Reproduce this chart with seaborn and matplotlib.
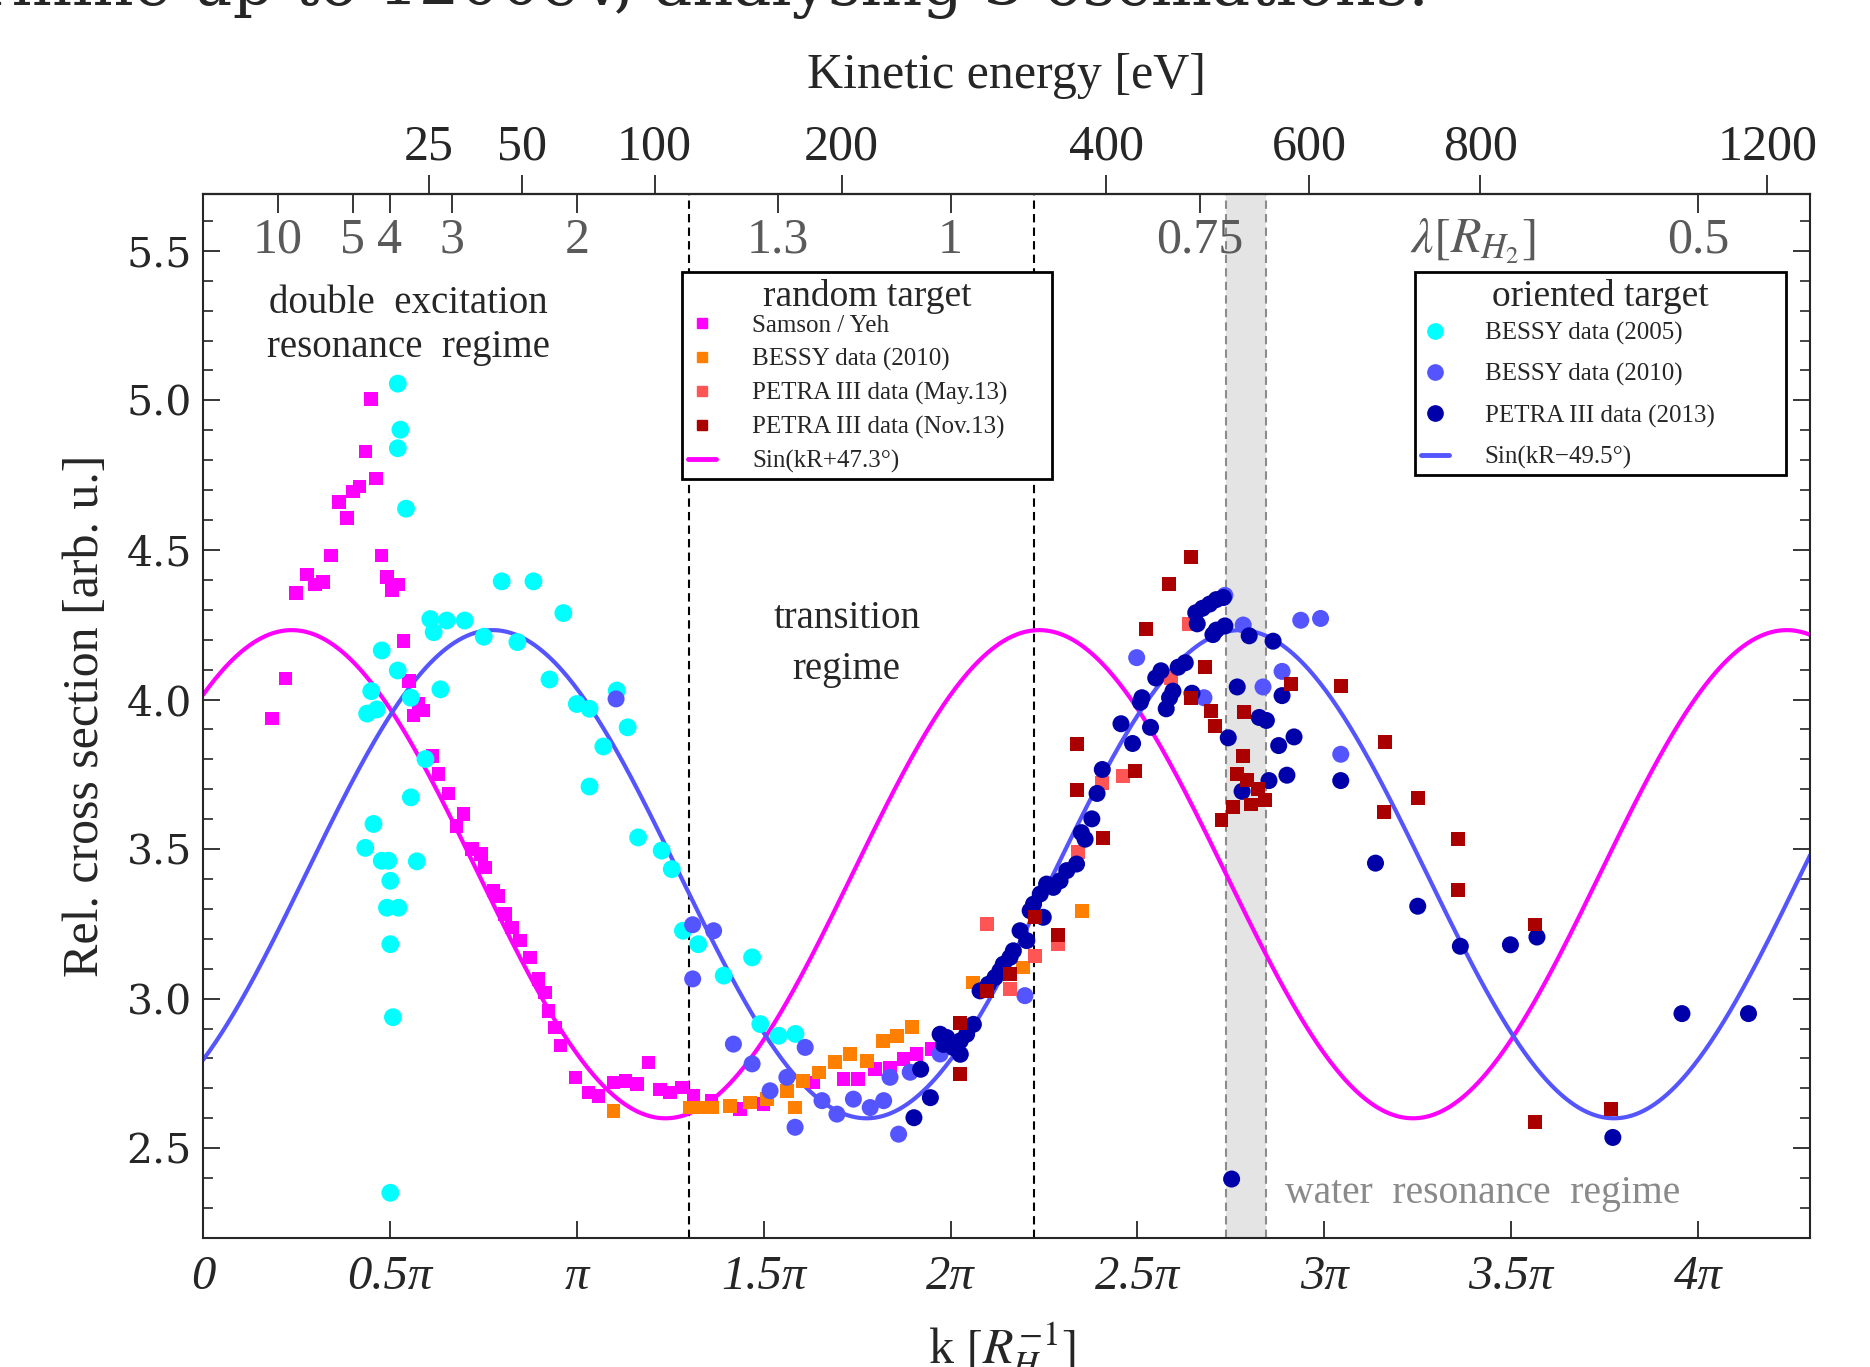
import numpy as np
import pandas as pd
import matplotlib
matplotlib.use("Agg")
import matplotlib.pyplot as plt
import seaborn as sns
from matplotlib.lines import Line2D
from matplotlib.ticker import MultipleLocator

# ---------------------------------------------------------------- data
# photon-electron wave number k in units of pi [R^-1], relative cross section
samson_k = [0.185, 0.221, 0.249, 0.278, 0.300, 0.321, 0.342, 0.364, 0.385, 0.401,
            0.419, 0.435, 0.449, 0.463, 0.477, 0.492, 0.506, 0.522, 0.536, 0.551,
            0.563, 0.577, 0.588, 0.614, 0.630, 0.657, 0.678, 0.697, 0.719, 0.743,
            0.755, 0.777, 0.790, 0.808, 0.826, 0.848, 0.875, 0.898, 0.915, 0.924,
            0.942, 0.956, 0.996, 1.031, 1.058, 1.098, 1.130, 1.161, 1.192, 1.223,
            1.250, 1.281, 1.312, 1.360, 1.437, 1.499, 1.633, 1.713, 1.753, 1.798,
            1.838, 1.874, 1.909, 1.950]
samson_y = [3.937, 4.071, 4.356, 4.418, 4.384, 4.392, 4.481, 4.660, 4.606, 4.695,
            4.712, 4.829, 5.005, 4.739, 4.481, 4.409, 4.364, 4.384, 4.196, 4.061,
            3.946, 3.985, 3.963, 3.812, 3.751, 3.686, 3.578, 3.617, 3.500, 3.484,
            3.439, 3.361, 3.344, 3.283, 3.238, 3.194, 3.138, 3.066, 3.021, 2.959,
            2.904, 2.843, 2.736, 2.686, 2.675, 2.720, 2.725, 2.714, 2.787, 2.697,
            2.686, 2.703, 2.675, 2.660, 2.631, 2.648, 2.720, 2.731, 2.731, 2.764,
            2.770, 2.798, 2.815, 2.831]

bessy10r_k = [1.098, 1.303, 1.330, 1.361, 1.410, 1.464, 1.508, 1.562, 1.584, 1.606,
              1.647, 1.691, 1.731, 1.776, 1.820, 1.856, 1.896, 2.061, 2.195, 2.351]
bessy10r_y = [2.625, 2.636, 2.636, 2.636, 2.642, 2.653, 2.664, 2.692, 2.636, 2.725,
              2.753, 2.787, 2.815, 2.792, 2.859, 2.876, 2.904, 3.054, 3.104, 3.294]

petra_may_k = [2.097, 2.159, 2.226, 2.288, 2.341, 2.406, 2.461, 2.591, 2.637]
petra_may_y = [3.249, 3.032, 3.143, 3.182, 3.489, 3.722, 3.744, 4.072, 4.253]

petra_nov_k = [2.026, 2.026, 2.097, 2.159, 2.226, 2.288, 2.339, 2.339, 2.408, 2.493,
               2.524, 2.584, 2.644, 2.644, 2.680, 2.697, 2.708, 2.725, 2.755, 2.767,
               2.783, 2.785, 2.794, 2.804, 2.822, 2.841, 2.910, 3.044, 3.160, 3.162,
               3.250, 3.357, 3.357, 3.564, 3.564, 3.766]
petra_nov_y = [2.920, 2.748, 3.026, 3.082, 3.272, 3.214, 3.850, 3.697, 3.536, 3.761,
               4.236, 4.385, 4.475, 4.006, 4.108, 3.962, 3.911, 3.598, 3.642, 3.751,
               3.812, 3.959, 3.732, 3.649, 3.700, 3.664, 4.052, 4.045, 3.624, 3.857,
               3.671, 3.534, 3.363, 3.248, 2.587, 2.632]

bessy05_k = [0.521, 0.528, 0.521, 0.543, 0.799, 0.884, 0.964, 0.608, 0.652, 0.700,
             0.617, 0.751, 0.841, 0.478, 0.521, 0.450, 0.465, 0.439, 0.556, 0.635,
             0.927, 1.000, 1.034, 1.107, 1.136, 1.071, 0.595, 0.556, 0.456, 0.434,
             0.478, 0.496, 0.572, 0.501, 0.492, 0.523, 0.501, 0.508, 0.501, 1.034,
             1.164, 1.227, 1.254, 1.284, 1.325, 1.393, 1.469, 1.491, 1.540, 1.585]
bessy05_y = [5.056, 4.902, 4.840, 4.638, 4.395, 4.395, 4.289, 4.269, 4.264, 4.264,
             4.225, 4.210, 4.192, 4.164, 4.097, 4.028, 3.967, 3.953, 4.006, 4.034,
             4.067, 3.985, 3.969, 4.030, 3.907, 3.843, 3.801, 3.673, 3.584, 3.504,
             3.461, 3.461, 3.459, 3.394, 3.304, 3.304, 3.182, 2.938, 2.351, 3.709,
             3.539, 3.495, 3.433, 3.227, 3.182, 3.077, 3.138, 2.915, 2.876, 2.882]

bessy10o_k = [1.105, 1.310, 1.366, 1.310, 1.419, 1.469, 1.611, 1.562, 1.517, 1.584,
              1.656, 1.696, 1.740, 1.785, 1.821, 1.838, 1.892, 1.861, 1.972, 2.199,
              2.734, 2.783, 2.836, 2.887, 2.937, 2.990, 3.044, 2.498, 2.678]
bessy10o_y = [4.002, 3.247, 3.227, 3.066, 2.848, 2.782, 2.837, 2.737, 2.692, 2.570,
              2.659, 2.614, 2.664, 2.636, 2.659, 2.737, 2.754, 2.547, 2.815, 3.010,
              4.348, 4.249, 4.042, 4.094, 4.265, 4.271, 3.817, 4.140, 4.006]

petra13_k = [2.337, 2.311, 2.293, 2.275, 2.257, 2.240, 2.222, 2.213, 2.248, 2.186,
             2.204, 2.168, 2.159, 2.141, 2.132, 2.119, 2.101, 2.079, 2.061, 2.043,
             2.026, 2.008, 1.990, 1.972, 1.981, 2.026, 1.946, 1.902, 1.920,
             2.730, 2.711, 2.693, 2.674, 2.656, 2.660, 2.711, 2.734, 2.702, 2.799,
             2.863, 2.628, 2.609, 2.563, 2.549, 2.595, 2.586, 2.577, 2.646, 2.512,
             2.508, 2.456, 2.535, 2.487, 2.743, 2.767, 2.887, 2.826, 2.845, 2.878,
             2.919, 2.900, 2.852, 2.780, 3.044, 2.406, 2.392, 2.378, 2.350, 2.360,
             2.752, 3.137, 3.250, 3.364, 3.498, 3.569, 3.957, 4.135, 3.772]
petra13_y = [3.450, 3.428, 3.394, 3.372, 3.383, 3.350, 3.316, 3.294, 3.272, 3.227,
             3.194, 3.160, 3.138, 3.115, 3.093, 3.071, 3.048, 3.026, 2.914, 2.881,
             2.859, 2.836, 2.870, 2.881, 2.847, 2.814, 2.669, 2.602, 2.764,
             4.341, 4.334, 4.319, 4.305, 4.290, 4.253, 4.232, 4.246, 4.217, 4.213,
             4.195, 4.123, 4.108, 4.096, 4.072, 4.028, 4.006, 3.969, 4.021, 4.006,
             3.991, 3.919, 3.907, 3.853, 3.872, 4.042, 4.013, 3.940, 3.930, 3.846,
             3.875, 3.747, 3.729, 3.693, 3.729, 3.766, 3.686, 3.601, 3.555, 3.533,
             2.397, 3.453, 3.309, 3.175, 3.180, 3.206, 2.950, 2.950, 2.536]

# sinusoidal fits: offset + amplitude * sin(kR + phase)
fit_offset = 3.416
fit_amplitude = 0.816
phase_random_deg = 47.3
phase_oriented_deg = -49.5

# axis annotations
energy_ticks_ev = [25, 50, 100, 200, 400, 600, 800, 1200]
wavelength_ticks = [10, 5, 4, 3, 2, 1.3, 1, 0.75, 0.5]
wavelength_labels = ["10", "5", "4", "3", "2", "1.3", "1", "0.75", "0.5"]
k_ticks = [0, 0.5, 1, 1.5, 2, 2.5, 3, 3.5, 4]
k_tick_labels = ["0", "0.5π", "π", "1.5π", "2π", "2.5π", "3π", "3.5π", "4π"]
regime_limits = [1.301, 2.223]          # k/pi of the dashed regime borders
water_band = [2.737, 2.845]             # k/pi range of the water resonance

RYDBERG_EV = 13.6057
R_H2_BOHR = 1.4

# ---------------------------------------------------------------- style
sns.set_theme(style="ticks")
plt.rcParams['font.family'] = ['Liberation Serif', 'DejaVu Serif']
plt.rcParams['mathtext.fontset'] = 'stix'
plt.rcParams['axes.linewidth'] = 1.5

C_MAG = "#FF00FF"
C_ORA = "#FF8000"
C_SAL = "#FF5555"
C_DRED = "#AA0000"
C_CYAN = "#00FFFF"
C_VIOL = "#5555FF"
C_NAVY = "#0000AA"

fig = plt.figure(figsize=(18.7, 13.67), dpi=100)
ax = fig.add_axes([0.1086, 0.0944, 0.8594, 0.7637])

# regime markers
ax.axvspan(water_band[0], water_band[1], color="#e4e4e4", lw=0, zorder=0)
for xb in water_band:
    ax.axvline(xb, color="#8c8c8c", ls=(0, (4, 2.5)), lw=1.5, zorder=1)
for xb in regime_limits:
    ax.axvline(xb, color="black", ls=(0, (4, 2.5)), lw=1.5, zorder=1)

# fitted curves
k_grid = np.linspace(0, 4.3, 800)
curves = pd.DataFrame({
    "k": k_grid,
    "random": fit_offset + fit_amplitude * np.sin(np.pi * k_grid + np.deg2rad(phase_random_deg)),
    "oriented": fit_offset + fit_amplitude * np.sin(np.pi * k_grid + np.deg2rad(phase_oriented_deg)),
})
sns.lineplot(data=curves, x="k", y="random", color=C_MAG, lw=3.0, ax=ax, zorder=2)
sns.lineplot(data=curves, x="k", y="oriented", color=C_VIOL, lw=3.0, ax=ax, zorder=2)

# measured data
def scatter(kv, yv, color, marker, size, z):
    sns.scatterplot(x=kv, y=yv, color=color, marker=marker, s=size,
                    edgecolor="none", linewidth=0, ax=ax, zorder=z)

scatter(samson_k, samson_y, C_MAG, "s", 95, 3)
scatter(bessy10r_k, bessy10r_y, C_ORA, "s", 100, 4)
scatter(bessy05_k, bessy05_y, C_CYAN, "o", 165, 5)
scatter(bessy10o_k, bessy10o_y, C_VIOL, "o", 150, 6)
scatter(petra_may_k, petra_may_y, C_SAL, "s", 100, 7)
scatter(petra13_k, petra13_y, C_NAVY, "o", 150, 8)
scatter(petra_nov_k, petra_nov_y, C_DRED, "s", 100, 9)

# ---------------------------------------------------------------- axes
ax.set_xlim(0, 4.3)
ax.set_ylim(2.2, 5.69)
ax.set_xlabel("")
ax.set_ylabel("Rel. cross section [arb. u.]", fontsize=36, labelpad=13)

ax.set_xticks(k_ticks)
ax.set_xticklabels(k_tick_labels, fontsize=35, style="italic")
ax.tick_params(axis="x", which="major", direction="in", length=12, width=1.3,
               top=False, pad=12)
ax.set_yticks([2.5, 3.0, 3.5, 4.0, 4.5, 5.0, 5.5])
ax.set_yticklabels(["2.5", "3.0", "3.5", "4.0", "4.5", "5.0", "5.5"],
                   fontsize=29.5, family="DejaVu Serif")
ax.yaxis.set_minor_locator(MultipleLocator(0.1))
ax.tick_params(axis="y", which="major", direction="in", length=12, width=1.3,
               right=True, pad=8)
ax.tick_params(axis="y", which="minor", direction="in", length=7, width=1.2,
               right=True)

# kinetic-energy axis on top
k_energy = [R_H2_BOHR * np.sqrt(e / RYDBERG_EV) / np.pi for e in energy_ticks_ev]
sec_e = ax.secondary_xaxis("top")
sec_e.set_xticks(k_energy)
sec_e.set_xticklabels([str(e) for e in energy_ticks_ev], fontsize=36)
sec_e.tick_params(direction="out", length=14, width=1.3, pad=3)
sec_e.set_xlabel("Kinetic energy [eV]", fontsize=36, labelpad=26)

# wavelength ticks inside the top edge
k_lambda = [2.0 / lam for lam in wavelength_ticks]
sec_l = ax.secondary_xaxis("top")
sec_l.set_xticks(k_lambda)
sec_l.set_xticklabels([""] * len(k_lambda))
sec_l.tick_params(direction="in", length=14, width=1.3)
for kx, lab in zip(k_lambda, wavelength_labels):
    ax.text(kx, 0.9435, lab, transform=ax.get_xaxis_transform(), ha="center",
            va="baseline", fontsize=36, color="#5a5a5a")
ax.text(3.397, 0.9435, r"$\lambda[R_{H_2}]$", transform=ax.get_xaxis_transform(),
        ha="center", va="baseline", fontsize=36, color="#5a5a5a")

# regime labels
ax.text(0.549, 5.25, "double  excitation\nresonance  regime", ha="center",
        va="center", fontsize=28, linespacing=1.25)
ax.text(1.722, 4.184, "transition\nregime", ha="center", va="center",
        fontsize=28, linespacing=1.5)
ax.text(3.423, 2.349, "water  resonance  regime", ha="center", va="center",
        fontsize=28.5, color="#8a8a8a")

# legends
def sq(c):
    return Line2D([], [], marker="s", color=c, ls="None", markersize=7)

def dot(c):
    return Line2D([], [], marker="o", color=c, ls="None", markersize=11)

leg_kw = dict(loc="upper left", mode="expand", borderaxespad=0, fontsize=18,
              title_fontsize=27, frameon=True, fancybox=False, framealpha=1,
              edgecolor="black", handlelength=1.1, handletextpad=1.45,
              borderpad=0.25)
leg1 = ax.legend([sq(C_MAG), sq(C_ORA), sq(C_SAL), sq(C_DRED),
                  Line2D([], [], color=C_MAG, lw=3.5)],
                 ["Samson / Yeh", "BESSY data (2010)", "PETRA III data (May.13)",
                  "PETRA III data (Nov.13)", "Sin(kR+47.3°)"],
                 title="random target", bbox_to_anchor=(0.298, 0.0, 0.2302, 0.925),
                 labelspacing=0.44, **leg_kw)
leg1._legend_box.sep = 0.5          # tight gap between title and entries
leg1.get_frame().set_linewidth(2)
leg1.set_zorder(20)
ax.add_artist(leg1)
leg2 = ax.legend([dot(C_CYAN), dot(C_VIOL), dot(C_NAVY),
                  Line2D([], [], color=C_VIOL, lw=3.5)],
                 ["BESSY data (2005)", "BESSY data (2010)", "PETRA III data (2013)",
                  "Sin(kR\u221249.5°)"],
                 title="oriented target", bbox_to_anchor=(0.754, 0.0, 0.2309, 0.925),
                 labelspacing=0.73, **leg_kw)
leg2._legend_box.sep = 6
leg2.get_frame().set_linewidth(2)
leg2.set_zorder(20)

# running text above and axis label below, both cut by the page edge
fig.text(0.764, 0.9963, "determine up to 1200eV, analysing 3 oscillations.",
         ha="right", va="baseline", fontsize=46, family="DejaVu Serif")
fig.text(0.536, 0.002, r"k $[R_H^{-1}]$", ha="center", va="baseline", fontsize=36)

fig.savefig("out.png", dpi=100)
